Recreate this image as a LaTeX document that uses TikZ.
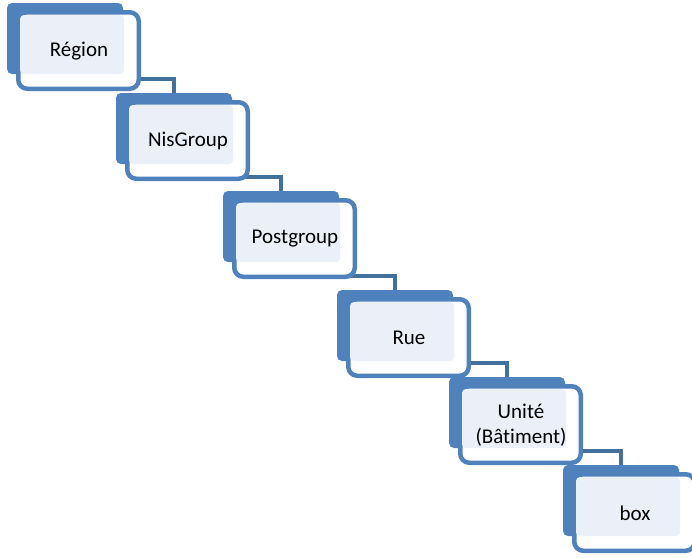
\documentclass[tikz,border=0pt]{standalone}
\usepackage{fontspec}
\setmainfont{Carlito}[Ligatures=NoCommon]
\usetikzlibrary{calc,backgrounds}
\definecolor{accent}{HTML}{4F81BD}
\definecolor{paleblue}{HTML}{EBF0F8}
\definecolor{linkblue}{HTML}{41719C}

\begin{document}
\begin{tikzpicture}[
    x=1pt, y=-1pt,
    darkbox/.style={fill=accent, rounded corners=5pt, minimum width=116pt,
                    minimum height=71pt, inner sep=0pt, outer sep=0pt},
    outline/.style={draw=accent, line width=4.5pt, fill=white, rounded corners=9pt,
                    minimum width=120.5pt, minimum height=76.5pt, inner sep=0pt, outer sep=0pt},
    tint/.style={fill=paleblue, rounded corners=4pt, minimum width=104pt,
                 minimum height=59pt, inner sep=0pt},
    steplabel/.style={align=center, font=\fontsize{21}{25}\selectfont, inner sep=0pt},
    link/.style={draw=linkblue, line width=4.5pt},
  ]
  \useasboundingbox (0,0) rectangle (692,557);

  % Staggered steps: dark tab, white frame, pale panel, text
  \foreach \px/\py/\nm/\txt in {7/3/reg/{Région}, 116/93/nis/{NisGroup},
      223/191/post/{Postgroup}, 337/290/rue/{Rue},
      449/377/unit/{Unité\\(Bâtiment)}, 563/465/bx/{box}} {
    \begin{scope}[shift={(\px,\py)}]
      \node[darkbox]   (\nm-d) at (58,35.5)   {};
      \node[outline]   (\nm-o) at (71.5,47.5) {};
      \node[tint]      (\nm-t) at (65,41.5)   {};
      \node[steplabel] (\nm)   at (72,48)     {\txt};
    \end{scope}
  }

  % Elbow connectors, behind the boxes
  \begin{pgfonlayer}{background}
    \fill[white] (0,0) rectangle (692,557);
    \coordinate (c1) at ($(nis-d.north)+(0,-14)$);
    \coordinate (c2) at ($(post-d.north)+(0,-14)$);
    \coordinate (c3) at ($(rue-d.north)+(0,-14)$);
    \coordinate (c4) at ($(unit-d.north)+(0,-14)$);
    \coordinate (c5) at ($(bx-d.north)+(0,-14)$);
    \draw[link] (reg-o |- c1)  -| (nis-d.north);
    \draw[link] (nis-o |- c2)  -| (post-d.north);
    \draw[link] (post-o |- c3) -| (rue-d.north);
    \draw[link] (rue-o |- c4)  -| (unit-d.north);
    \draw[link] (unit-o |- c5) -| (bx-d.north);
  \end{pgfonlayer}
\end{tikzpicture}
\end{document}
